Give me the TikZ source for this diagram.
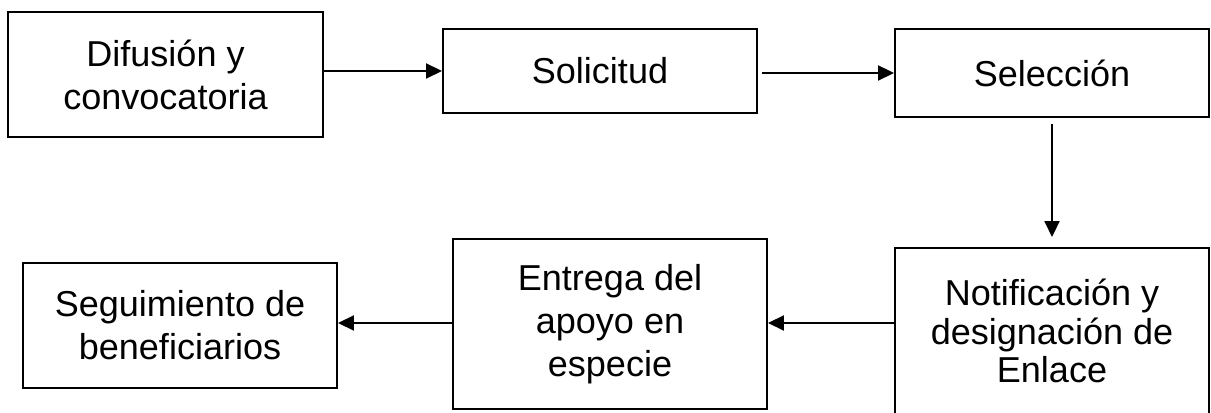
\documentclass[tikz,border=0pt]{standalone}
\usepackage{fontspec}
\setmainfont{Liberation Sans}
\usetikzlibrary{arrows.meta}

\begin{document}
\begin{tikzpicture}[
  stepbox/.style={draw, line width=1.1pt, minimum width=6.28cm, align=center, font=\fontsize{20.5}{24.5}\selectfont},
  flow/.style={line width=1.1pt, -{Triangle[length=0.32cm,width=0.3cm]}}]
\useasboundingbox (0,0) rectangle (24.22,8.26);

\draw (3.31,6.77) node[stepbox, minimum width=6.3cm, minimum height=2.5cm] (difusion) {Difusión y\\convocatoria};
\draw (12.0,6.84) node[stepbox, minimum height=1.68cm] (solicitud) {Solicitud};
\draw (21.04,6.8) node[stepbox, minimum height=1.76cm] (seleccion) {Selección};
\draw (21.04,1.64) node[stepbox, minimum height=3.32cm, font=\fontsize{20.5}{21.8}\selectfont] (notificacion) {Notificación y\\designación de\\Enlace};
\draw (12.2,1.78) node[stepbox, minimum height=3.4cm] (entrega) {Entrega del\\apoyo en\\especie};
\draw (3.6,1.75) node[stepbox, minimum height=2.5cm] (seguimiento) {Seguimiento de\\beneficiarios};

\draw[flow] (difusion.east |- solicitud.west) -- (solicitud.west);
\draw[flow, shorten <=0.08cm] (solicitud.east |- 0,6.8) -- (seleccion.west |- 0,6.8);
\draw[flow, shorten <=0.12cm, shorten >=0.2cm] (seleccion.south) -- (notificacion.north);
\draw[flow] (notificacion.west |- 0,1.8) -- (entrega.east |- 0,1.8);
\draw[flow] (entrega.west |- 0,1.8) -- (seguimiento.east |- 0,1.8);

\end{tikzpicture}
\end{document}
